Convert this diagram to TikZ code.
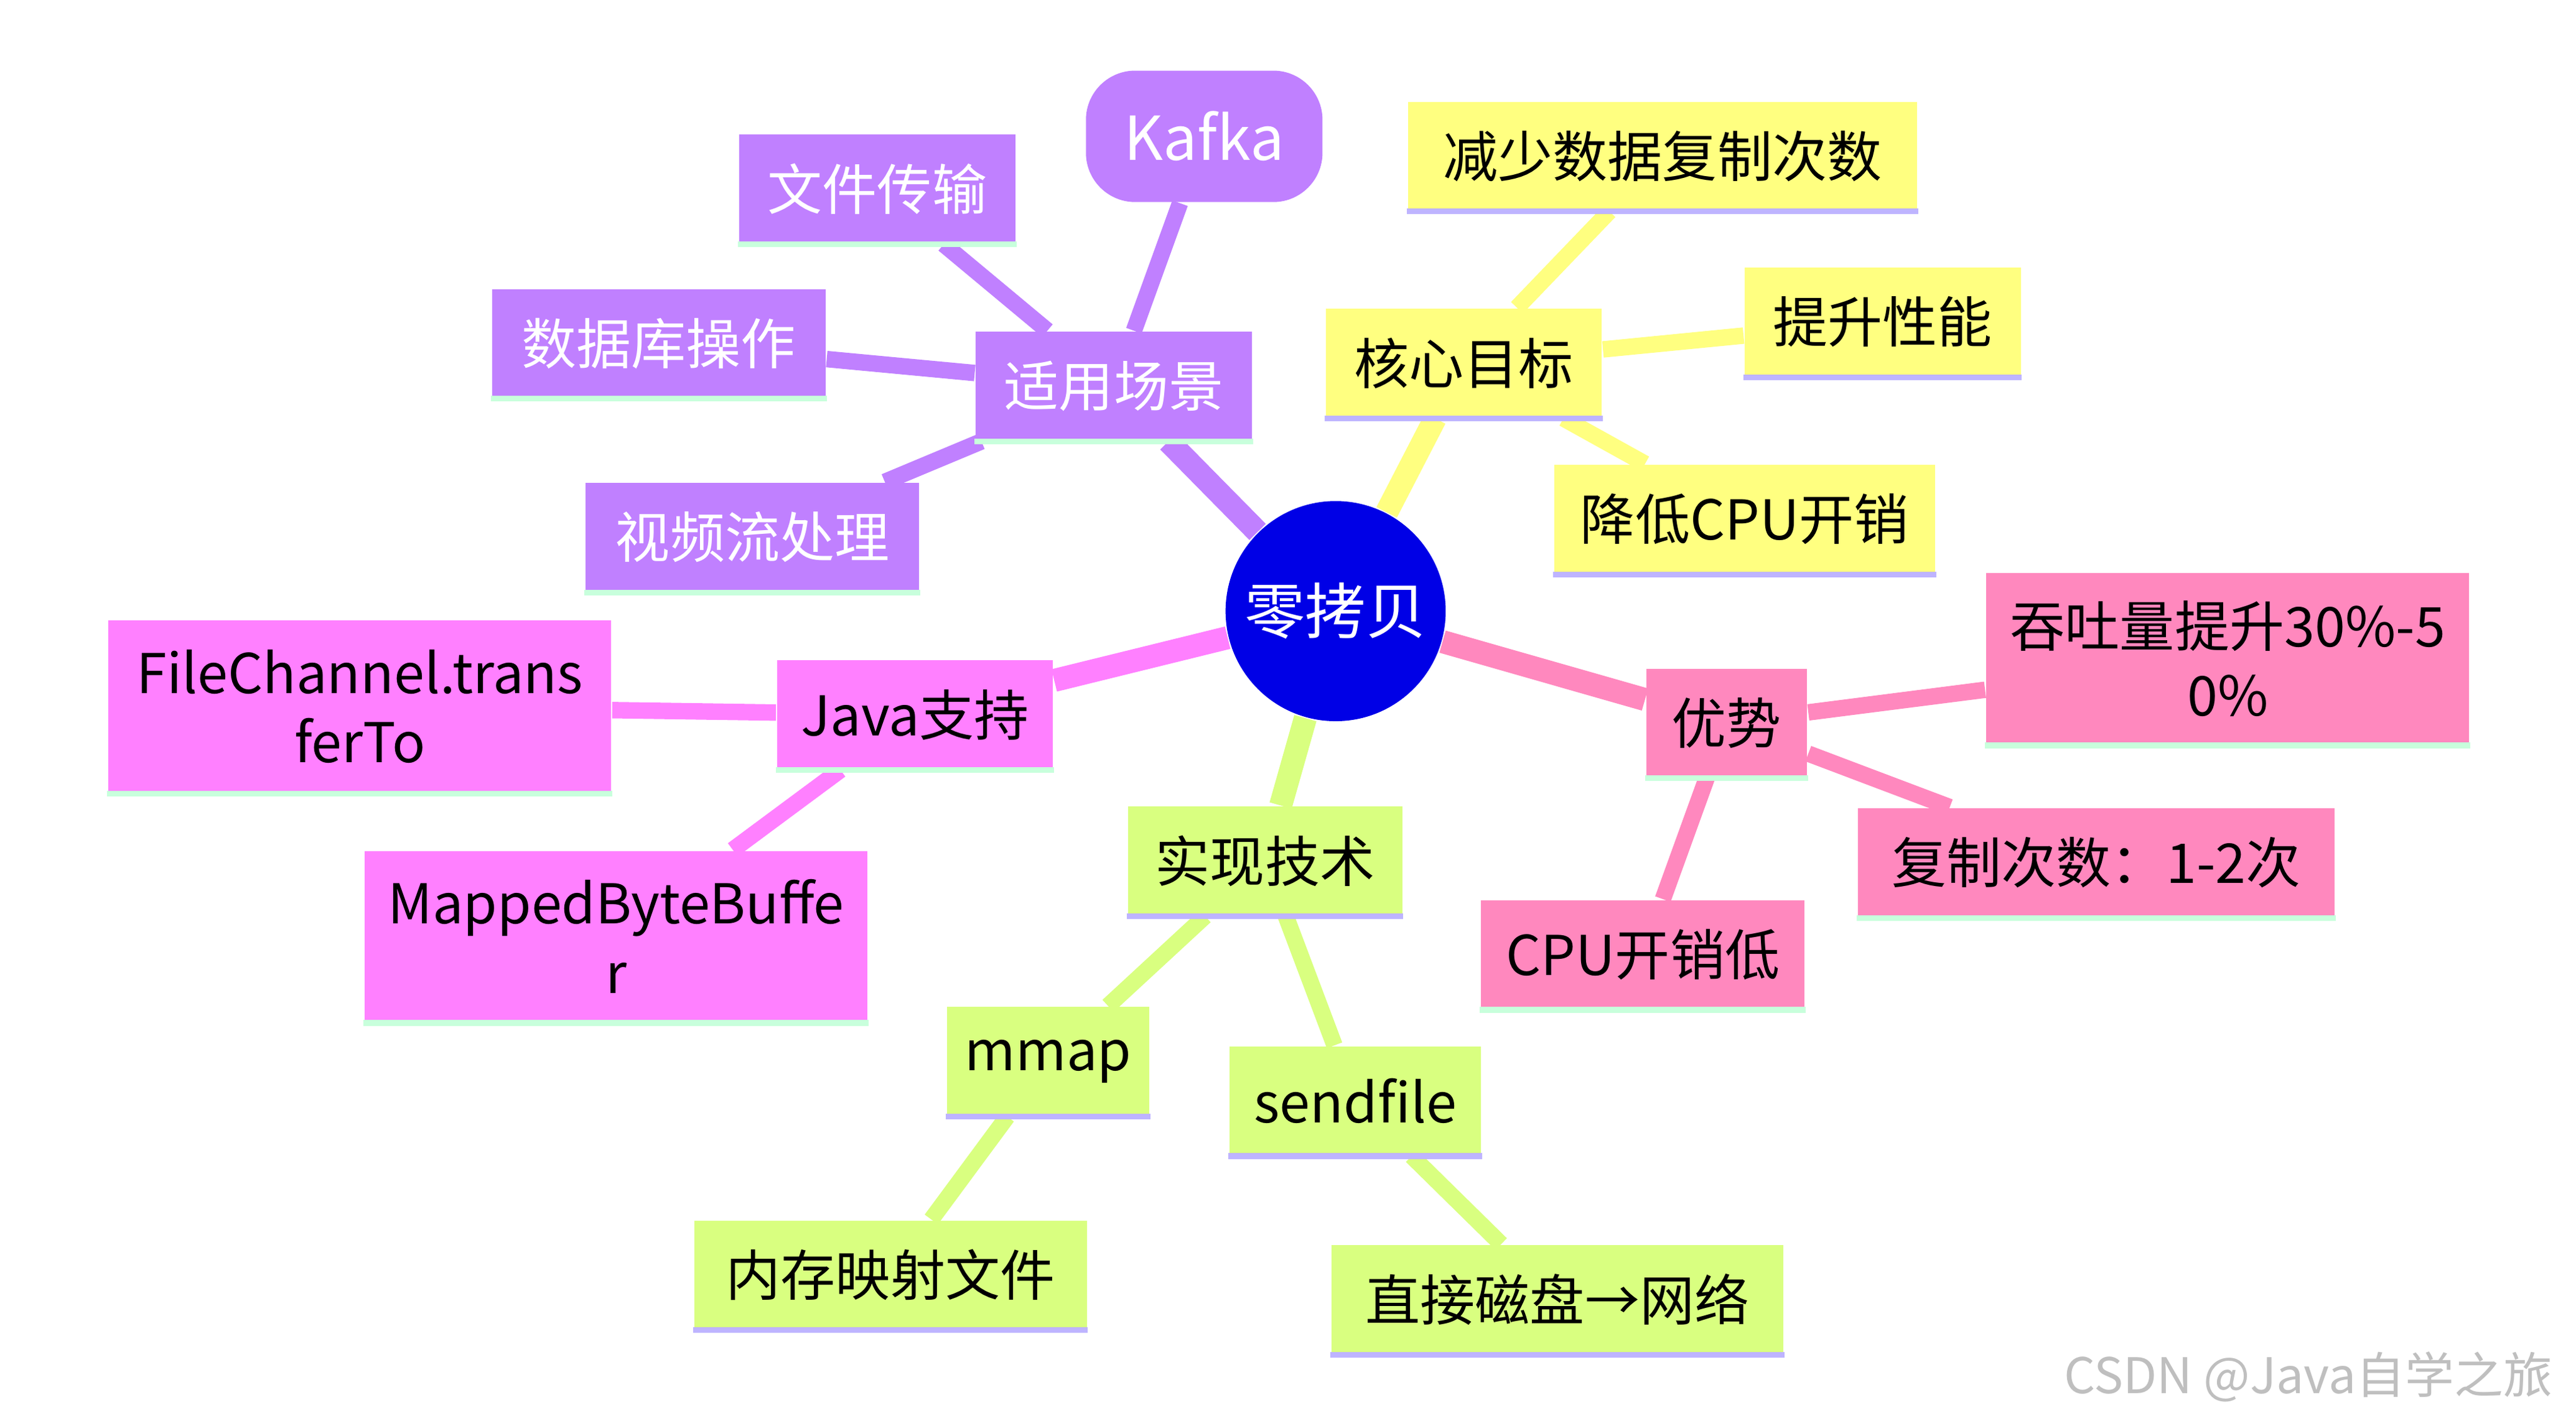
\documentclass[tikz,border=0pt]{standalone}
\usepackage{fontspec}
\setmainfont{Noto Sans CJK SC}
\usetikzlibrary{backgrounds}
\definecolor{rootc}{RGB}{0,0,230}
\definecolor{yelc}{RGB}{255,255,128}
\definecolor{pinkc}{RGB}{255,136,190}
\definecolor{grnc}{RGB}{217,255,128}
\definecolor{magc}{RGB}{255,128,255}
\definecolor{purc}{RGB}{192,128,255}
\definecolor{linea}{RGB}{190,180,255}
\definecolor{lineb}{RGB}{200,255,220}
\begin{document}
\begin{tikzpicture}[x=0.1mm,y=-0.1mm,font=\fontsize{9.5}{12}\selectfont,
  box/.style={rectangle,inner sep=0pt,minimum height=6.6mm,align=center},
  yel/.style={box,fill=yelc},
  pnk/.style={box,fill=pinkc},
  grn/.style={box,fill=grnc},
  mag/.style={box,fill=magc},
  pur/.style={box,fill=purc,text=white},
  wide/.style={line width=1.4mm},
  thin/.style={line width=1mm}]
\useasboundingbox (0,0) rectangle (1568,866);
% root
\node[circle,fill=rootc,text=white,minimum size=13.4mm,inner sep=0pt,font=\fontsize{10.5}{13}\selectfont] (root) at (813,372) {零拷贝};
% core goals
\node[yel,minimum width=16.8mm] (goal) at (891,221) {核心目标};
\node[yel,minimum width=31mm] (less) at (1012,95) {减少数据复制次数};
\node[yel,minimum width=16.8mm] (perf) at (1146,196) {提升性能};
\node[yel,minimum width=23.2mm] (cpu) at (1062,316) {降低CPU开销};
% advantages
\node[pnk,minimum width=9.8mm] (adv) at (1051,440) {优势};
\node[pnk,minimum width=29.4mm,minimum height=10.4mm] (thru) at (1356,401) {吞吐量提升30\%-5\\0\%};
\node[pnk,minimum width=29mm] (copy) at (1276,525) {复制次数：1-2次};
\node[pnk,minimum width=19.7mm] (low) at (1000,581) {CPU开销低};
% implementation
\node[grn,minimum width=16.7mm] (impl) at (770,524) {实现技术};
\node[grn,minimum width=12.3mm] (mmap) at (638,646) {mmap};
\node[grn,minimum width=15.3mm] (send) at (825,670) {sendfile};
\node[grn,minimum width=23.9mm] (memf) at (542,776) {内存映射文件};
\node[grn,minimum width=27.5mm] (disk) at (948,791) {直接磁盘→网络};
% java
\node[mag,minimum width=16.8mm] (java) at (557,435) {Java支持};
\node[mag,minimum width=30.6mm,minimum height=10.5mm] (fch) at (219,430) {FileChannel.trans\\ferTo};
\node[mag,minimum width=30.6mm,minimum height=10.4mm] (mbb) at (375,570) {MappedByteBuffe\\r};
% scenarios
\node[pur,minimum width=16.8mm] (scene) at (678,235) {适用场景};
\node[pur,minimum width=16.8mm] (file) at (534,115) {文件传输};
\node[pur,minimum width=20.3mm] (db) at (401,209) {数据库操作};
\node[pur,minimum width=20.3mm] (video) at (458,327) {视频流处理};
\node[pur,rounded corners=3mm,minimum width=14.4mm,minimum height=8mm,font=\fontsize{10.5}{13}\selectfont] (kafka) at (733,83) {Kafka};
% bottom rules
\foreach \n in {goal,less,perf,cpu,impl,mmap,send,memf,disk}
  \draw[linea,line width=0.35mm] (\n.south west) -- (\n.south east);
\foreach \n in {adv,thru,copy,low,java,fch,mbb,scene,file,db,video}
  \draw[lineb,line width=0.35mm] (\n.south west) -- (\n.south east);
% connectors
\begin{scope}[on background layer]
  \draw[wide,yelc] (root) -- (goal);
  \draw[wide,pinkc] (root) -- (adv);
  \draw[wide,grnc] (root) -- (impl);
  \draw[wide,magc] (root) -- (java);
  \draw[wide,purc] (root) -- (scene);
  \foreach \n in {less,perf,cpu} \draw[thin,yelc] (goal) -- (\n);
  \foreach \n in {thru,copy,low} \draw[thin,pinkc] (adv) -- (\n);
  \foreach \n in {mmap,send} \draw[thin,grnc] (impl) -- (\n);
  \draw[thin,grnc] (mmap) -- (memf);
  \draw[thin,grnc] (send) -- (disk);
  \foreach \n in {fch,mbb} \draw[thin,magc] (java) -- (\n);
  \foreach \n in {file,db,video,kafka} \draw[thin,purc] (scene) -- (\n);
\end{scope}
\node[text=black!25,font=\fontsize{8.5}{10}\selectfont,anchor=east] (mark) at (1566,838) {CSDN @Java自学之旅};
\end{tikzpicture}
\end{document}
